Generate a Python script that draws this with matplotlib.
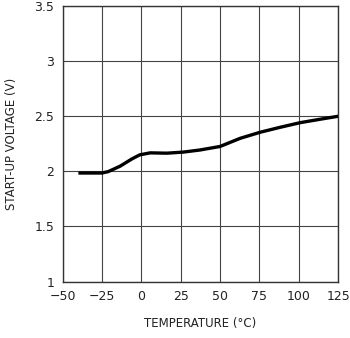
import matplotlib
matplotlib.use("Agg")
import matplotlib.pyplot as plt

temperature = [-40, -25, -21, -13.5, -6, -1, 5.6, 16.2, 26.7, 37.3, 50, 62.8, 75.5, 88.2, 100.9, 113.6, 125]
voltage = [1.985, 1.985, 1.998, 2.047, 2.113, 2.15, 2.168, 2.165, 2.175, 2.194, 2.226, 2.30, 2.355, 2.40, 2.442, 2.473, 2.50]
x_ticks = [-50, -25, 0, 25, 50, 75, 100, 125]
y_ticks = [1, 1.5, 2, 2.5, 3, 3.5]
y_labels = ["1", "1.5", "2", "2.5", "3", "3.5"]

fig = plt.figure(figsize=(3.5, 3.38), dpi=100)
ax = fig.add_axes([0.179, 0.167, 0.787, 0.815])
ax.plot(temperature, voltage, color="black", lw=2.4, solid_joinstyle="round",
        solid_capstyle="butt", zorder=3)
ax.set_xlim(-50, 125)
ax.set_ylim(1, 3.5)
ax.set_xticks(x_ticks)
ax.set_yticks(y_ticks)
ax.set_yticklabels(y_labels)
ax.grid(True, color="#444444", lw=0.8)
ax.tick_params(length=0, labelsize=9, colors="#222222", pad=6)
for s in ax.spines.values():
    s.set_color("#333333")
    s.set_linewidth(1.0)
ax.set_xlabel("TEMPERATURE (°C)", fontsize=8.5, color="#222222", labelpad=10)
ax.set_ylabel("START-UP VOLTAGE (V)", fontsize=8.5, color="#222222", labelpad=12)
fig.savefig("out.png", dpi=100)
